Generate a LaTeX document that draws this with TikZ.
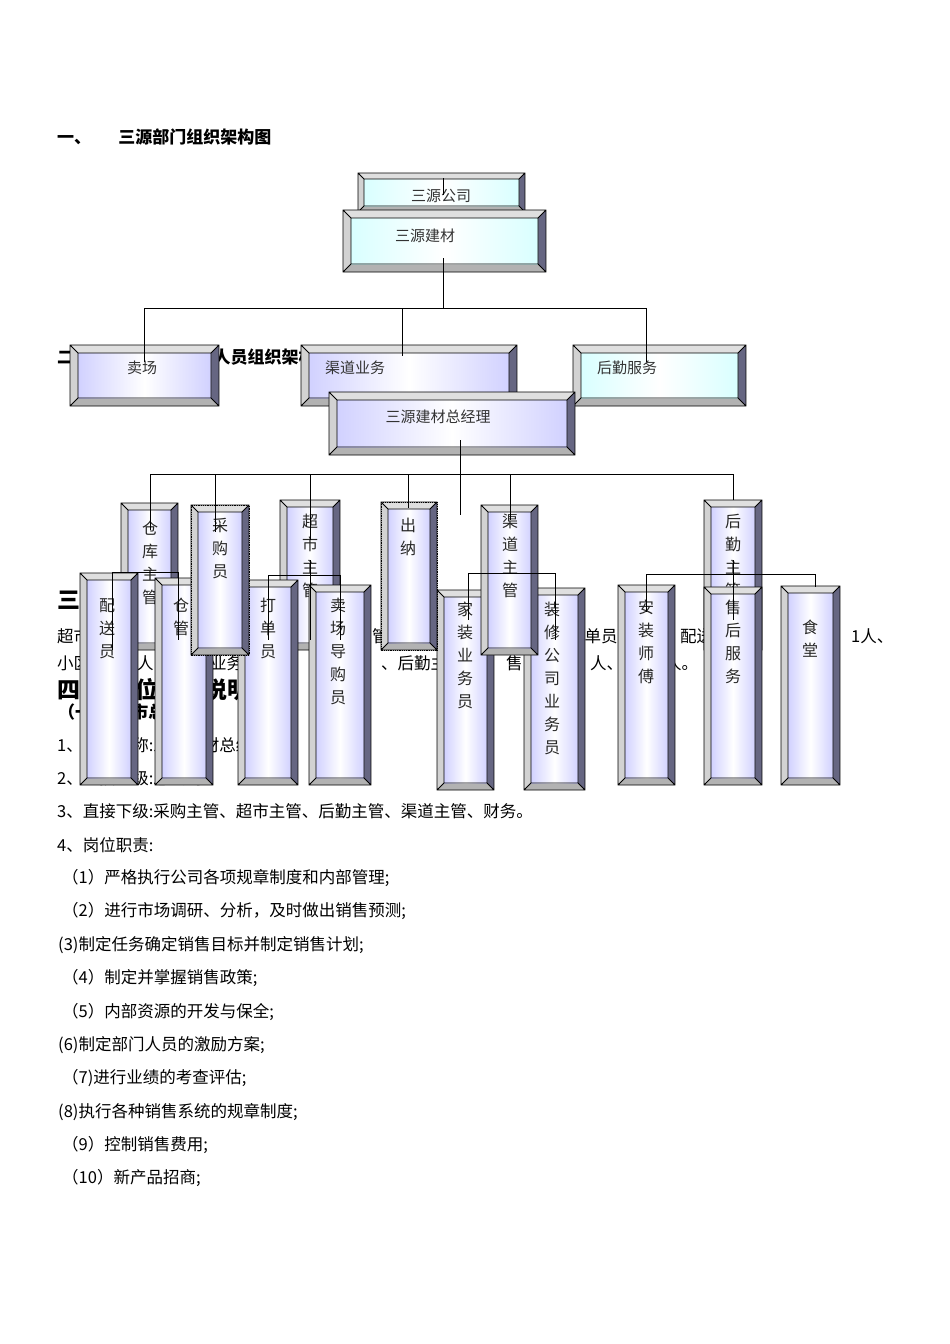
\documentclass[tikz,border=0pt]{standalone}
\usepackage{fontspec}
\setmainfont{Noto Sans CJK SC}
\begin{document}
\begin{tikzpicture}[x=1pt,y=-1pt,
  txt/.style={anchor=west,inner sep=0pt,font=\fontsize{16.5}{16.5}\selectfont},
  head/.style={anchor=west,inner sep=0pt,font=\fontsize{17}{17}\selectfont\bfseries},
  big/.style={anchor=west,inner sep=0pt,font=\fontsize{23}{23}\selectfont\bfseries},
  lbl/.style={inner sep=0pt,font=\fontsize{15}{15}\selectfont,text=black!80},
  vlbl/.style={inner sep=0pt,anchor=north,align=center,font=\fontsize{16}{23}\selectfont,text=black!85},
  conn/.style={draw=black,line width=0.9pt}]
\useasboundingbox[fill=white] (0,0) rectangle (950,1344);
\newcommand\bev[6]{%
 \fill[black!45!blue!20!gray] (#1,#2) rectangle (#3,#4);
 \fill[gray!25] (#1,#2)--(#3,#2)--(#3-#6,#2+#6)--(#1+#6,#2+#6)--cycle;
 \fill[gray!35] (#1,#2)--(#1+#6,#2+#6)--(#1+#6,#4-#6)--(#1,#4)--cycle;
 \fill[gray!60] (#1,#4)--(#1+#6,#4-#6)--(#3-#6,#4-#6)--(#3,#4)--cycle;
 \shade[shading angle=135,left color=#5,right color=#5,middle color=white] (#1+#6,#2+#6) rectangle (#3-#6,#4-#6);
 \draw[line width=0.8pt] (#1,#2) rectangle (#3,#4) (#1+#6,#2+#6) rectangle (#3-#6,#4-#6)
   (#1,#2)--(#1+#6,#2+#6) (#3,#2)--(#3-#6,#2+#6) (#1,#4)--(#1+#6,#4-#6) (#3,#4)--(#3-#6,#4-#6);}
\colorlet{lav}{blue!18}
\colorlet{cy}{cyan!15}
% ---------- text ----------
\node[head] (t1) at (57,137) {一、\hspace{1.6em}三源部门组织架构图};
\node[head] (t2) at (57,357) {二、\hspace{1.2em}三源建材部门人员组织架构图};
\node[big] (t3) at (57,600) {三、部门人员编制};
\node[txt] (a1) at (57,636) {超市};
\node[txt] (a2) at (372,636) {管};
\node[txt] (a3) at (568,636) {打单员};
\node[txt] (a4) at (680,636) {配送};
\node[txt] (a5) at (750,636) {、};
\node[txt] (a6) at (851,636) {1人、};
\node[txt] (b1) at (57,663) {小区};
\node[txt] (b2) at (137,663) {人};
\node[txt] (b3) at (210,663) {业务};
\node[txt] (b4) at (381,663) {、后勤主};
\node[txt] (b5) at (506,663) {售};
\node[txt] (b6) at (590,663) {人、};
\node[txt] (b7) at (665,663) {人。};
\node[big] (t6) at (57,690) {四、\hspace{0.4em}岗位职责说明};
\node[head] (t7) at (58,712) {（一）\hspace{0.3em}超市总经理};
\node[txt] (t8) at (57,745) {1、岗位名称:三源建材总经理};
\node[txt] (t9) at (57,778) {2、直接上级:总公司};
\node[txt] (l3) at (57,811) {3、直接下级:采购主管、超市主管、后勤主管、渠道主管、财务。};
\node[txt] (l4) at (57,845) {4、岗位职责:};
\node[txt] (l5) at (62,878) {（1）严格执行公司各项规章制度和内部管理;};
\node[txt] (l6) at (62,911) {（2）进行市场调研、分析，及时做出销售预测;};
\node[txt] (l7) at (58,945) {(3)制定任务确定销售目标并制定销售计划;};
\node[txt] (l8) at (62,978) {（4）制定并掌握销售政策;};
\node[txt] (l9) at (62,1012) {（5）内部资源的开发与保全;};
\node[txt] (l10) at (58,1045) {(6)制定部门人员的激励方案;};
\node[txt] (l11) at (62,1078) {（7)进行业绩的考查评估;};
\node[txt] (l12) at (58,1112) {(8)执行各种销售系统的规章制度;};
\node[txt] (l13) at (62,1145) {（9）控制销售费用;};
\node[txt] (l14) at (62,1178) {（10）新产品招商;};
% ---------- top chart ----------
\bev{358}{173}{525}{212}{cy}{6}
\node[lbl] (gs) at (441,196) {三源公司};
\bev{343}{210}{546}{272}{cy}{8}
\node[lbl] (jc) at (425,236) {三源建材};
\bev{70}{345}{219}{406}{lav}{8}
\node[lbl] (mc) at (142,368) {卖场};
\bev{301}{345}{517}{406}{lav}{8}
\node[lbl] (qd) at (355,368) {渠道业务};
\bev{573}{345}{746}{406}{cy}{8}
\node[lbl] (hq) at (627,368) {后勤服务};
\draw[conn] (443,178)--(443,195) (443,258)--(443,308) (144,308)--(646,308)
  (144,308)--(144,362) (402,308)--(402,356) (646,308)--(646,362);
\bev{329}{392}{575}{455}{lav}{8}
\node[lbl] (zjl) at (438,417) {三源建材总经理};
% ---------- level 2 / 3 ----------
\bev{121}{503}{178}{650}{lav}{7}
\node[vlbl] (ck) at (150,521) {仓\\库\\主\\管};
\bev{280}{500}{340}{650}{lav}{7}
\node[vlbl] (cs) at (310,514) {超\\市\\主\\管};
\bev{704}{500}{762}{650}{lav}{7}
\node[vlbl] (hqz) at (733,514) {后\\勤\\主\\管};
\bev{80}{573}{138}{785}{lav}{7}
\node[vlbl] (ps) at (107,598) {配\\送\\员};
\bev{155}{578}{213}{785}{lav}{7}
\node[vlbl] (cg) at (181,598) {仓\\管};
\bev{238}{580}{298}{785}{lav}{7}
\node[vlbl] (dd) at (268,598) {打\\单\\员};
\bev{309}{585}{371}{785}{lav}{7}
\node[vlbl] (dg) at (338,598) {卖\\场\\导\\购\\员};
\bev{437}{590}{494}{790}{lav}{7}
\node[vlbl] (jz) at (465,602) {家\\装\\业\\务\\员};
\bev{524}{588}{585}{790}{lav}{7}
\node[vlbl] (zx) at (552,602) {装\\修\\公\\司\\业\\务\\员};
\bev{618}{585}{675}{785}{lav}{7}
\node[vlbl] (az) at (646,600) {安\\装\\师\\傅};
\bev{704}{587}{762}{785}{lav}{7}
\node[vlbl] (sh) at (733,600) {售\\后\\服\\务};
\bev{781}{586}{840}{785}{lav}{7}
\node[vlbl] (st) at (810,620) {食\\堂};
\bev{191}{505}{249}{655}{lav}{7}
\draw[densely dotted,line width=0.8pt] (191,505) rectangle (249,655);
\node[vlbl] (cgy) at (220,518) {采\\购\\员};
\bev{381}{502}{437}{650}{lav}{7}
\draw[densely dotted,line width=0.8pt] (381,502) rectangle (437,650);
\node[vlbl] (cn) at (408,518) {出\\纳};
\bev{481}{505}{538}{655}{lav}{7}
\node[vlbl] (qdz) at (510,514) {渠\\道\\主\\管};
% connectors
\draw[conn] (460,440)--(460,515) (150,474)--(733,474)
  (150,474)--(150,530) (215,474)--(215,532) (310,474)--(310,540) (408,474)--(408,508)
  (510,474)--(510,520) (733,474)--(733,500);
\draw[conn] (112,572)--(178,572) (112,572)--(112,650) (178,572)--(178,640)
  (268,575)--(340,575) (268,575)--(268,640) (340,575)--(340,640) (310,560)--(310,640)
  (468,573)--(555,573) (468,573)--(468,620) (555,573)--(555,640)
  (646,574)--(815,574) (646,574)--(646,612) (733,560)--(733,620) (815,574)--(815,587);
\end{tikzpicture}
\end{document}
